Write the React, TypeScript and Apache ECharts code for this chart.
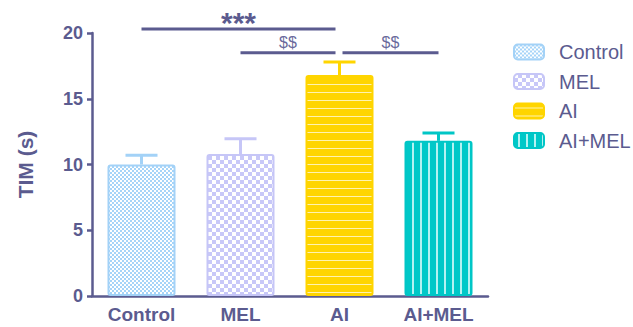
import React, { useEffect, useRef } from 'react';
import * as echarts from 'echarts';

const categories = ['Control', 'MEL', 'AI', 'AI+MEL'];
const means = [10.0, 10.8, 16.8, 11.8];
const upperErrors = [10.7, 11.95, 17.8, 12.4];
const yMin = 0;
const yMax = 20;
const yInterval = 5;
const sigFrom = [0, 1, 2];
const sigTo = [2, 2, 3];
const sigLevel = [20.3, 18.5, 18.5];
const sigLabels = ['***', '$$', '$$'];

const AXIS = '#5b5b8f';
const FONT = '"Liberation Sans", Arial, sans-serif';
const borderColors = ['#a3d2f7', '#c6c6f7', '#ffd500', '#00c6c6'];

function makePattern(w: number, h: number, draw: (ctx: CanvasRenderingContext2D) => void) {
  const c = document.createElement('canvas');
  c.width = w;
  c.height = h;
  const ctx = c.getContext('2d') as CanvasRenderingContext2D;
  draw(ctx);
  return { image: c, repeat: 'repeat', imageWidth: w, imageHeight: h } as any;
}

export default function App() {
  const ref = useRef<HTMLDivElement>(null);
  useEffect(() => {
    document.body.style.margin = '0';
    if (!ref.current) return;
    const chart = echarts.init(ref.current, null, { renderer: 'svg' });

    const patterns = [
      makePattern(4, 4, (ctx) => {
        ctx.fillStyle = '#a6d4f8';
        ctx.fillRect(0, 0, 4, 4);
        ctx.fillStyle = '#ffffff';
        ctx.fillRect(0, 0, 2, 2);
        ctx.fillRect(2, 2, 2, 2);
      }),
      makePattern(8, 8, (ctx) => {
        ctx.fillStyle = '#c8c8f8';
        ctx.fillRect(0, 0, 8, 8);
        ctx.fillStyle = '#ffffff';
        ctx.fillRect(0, 0, 4, 4);
        ctx.fillRect(4, 4, 4, 4);
      }),
      makePattern(8, 8, (ctx) => {
        ctx.fillStyle = '#ffd500';
        ctx.fillRect(0, 0, 8, 8);
        ctx.fillStyle = '#fff3b0';
        ctx.fillRect(0, 4, 8, 1);
      }),
      makePattern(8, 8, (ctx) => {
        ctx.fillStyle = '#00c8c8';
        ctx.fillRect(0, 0, 8, 8);
        ctx.fillStyle = '#b4f2f2';
        ctx.fillRect(4, 0, 2, 8);
      }),
    ];

    const barSeries = categories.map((name, i) => ({
      name,
      type: 'bar',
      data: categories.map((_, j) => (j === i ? means[i] : '-')),
      barWidth: 68,
      barGap: '-100%',
      itemStyle: {
        color: patterns[i],
        borderColor: borderColors[i],
        borderWidth: 2,
        borderRadius: 2,
      },
      z: 3,
    }));

    const errorSeries = {
      type: 'custom',
      clip: false,
      z: 2,
      data: categories.map((_, i) => [i, means[i], upperErrors[i]]),
      encode: { x: 0, y: 2 },
      renderItem: (params: any, api: any) => {
        const i = api.value(0);
        const base = api.coord([i, api.value(1)]);
        const top = api.coord([i, api.value(2)]);
        const color = borderColors[params.dataIndex];
        return {
          type: 'group',
          children: [
            { type: 'line', shape: { x1: base[0], y1: base[1], x2: top[0], y2: top[1] }, style: { stroke: color, lineWidth: 3 } },
            { type: 'line', shape: { x1: top[0] - 16, y1: top[1], x2: top[0] + 16, y2: top[1] }, style: { stroke: color, lineWidth: 3 } },
          ],
        };
      },
    };

    const sigSeries = {
      type: 'custom',
      clip: false,
      z: 4,
      data: sigFrom.map((f, k) => [f, sigTo[k], sigLevel[k], k]),
      encode: { x: 0, y: 2 },
      renderItem: (params: any, api: any) => {
        const f = api.value(0);
        const t = api.value(1);
        const lvl = api.value(2);
        const k = params.dataIndex;
        const p1 = api.coord([f, lvl]);
        const p2 = api.coord([t, lvl]);
        let x1 = p1[0];
        let x2 = p2[0];
        if (f === 2) x1 += 3;
        if (t === 2) x2 -= 4;
        const isStar = sigLabels[k] === '***';
        return {
          type: 'group',
          children: [
            { type: 'line', shape: { x1, y1: p1[1], x2, y2: p1[1] }, style: { stroke: AXIS, lineWidth: 3 } },
            {
              type: 'text',
              x: (x1 + x2) / 2,
              y: p1[1] - (isStar ? 7 : 10.5),
              style: {
                text: sigLabels[k],
                fill: isStar ? '#5b5b8f' : '#6a6a9c',
                font: isStar ? `bold 30px ${FONT}` : `16px ${FONT}`,
                align: 'center',
                verticalAlign: 'middle',
              },
            },
          ],
        };
      },
    };

    chart.setOption({
      animation: false,
      backgroundColor: '#ffffff',
      grid: { left: 92, top: 33, right: 145, bottom: 31 },
      legend: {
        data: categories,
        orient: 'vertical',
        left: 513,
        top: 42,
        padding: 0,
        itemWidth: 30,
        itemHeight: 15,
        itemGap: 9.5,
        icon: 'roundRect',
        textStyle: { fontSize: 20, color: AXIS, fontFamily: FONT, padding: [0, 0, 0, 10] },
      },
      xAxis: {
        type: 'category',
        data: categories,
        axisLine: { lineStyle: { color: AXIS, width: 2.5 } },
        axisTick: { alignWithLabel: true, length: 5, lineStyle: { color: AXIS, width: 2.5 } },
        axisLabel: { color: AXIS, fontWeight: 'bold', fontSize: 19, fontFamily: FONT, margin: 9 },
      },
      yAxis: {
        type: 'value',
        min: yMin,
        max: yMax,
        interval: yInterval,
        name: 'TIM (s)',
        nameLocation: 'middle',
        nameRotate: 90,
        nameGap: 56,
        nameTextStyle: { color: AXIS, fontWeight: 'bold', fontSize: 21, fontFamily: FONT },
        splitLine: { show: false },
        axisLine: { show: true, lineStyle: { color: AXIS, width: 2.5 } },
        axisTick: { show: true, length: 5, lineStyle: { color: AXIS, width: 2.5 } },
        axisLabel: { color: AXIS, fontWeight: 'bold', fontSize: 18, fontFamily: FONT, margin: 9 },
      },
      series: [...barSeries, errorSeries, sigSeries],
    } as any);

    return () => chart.dispose();
  }, []);
  return <div ref={ref} style={{ width: 633, height: 327 }} />;
}
